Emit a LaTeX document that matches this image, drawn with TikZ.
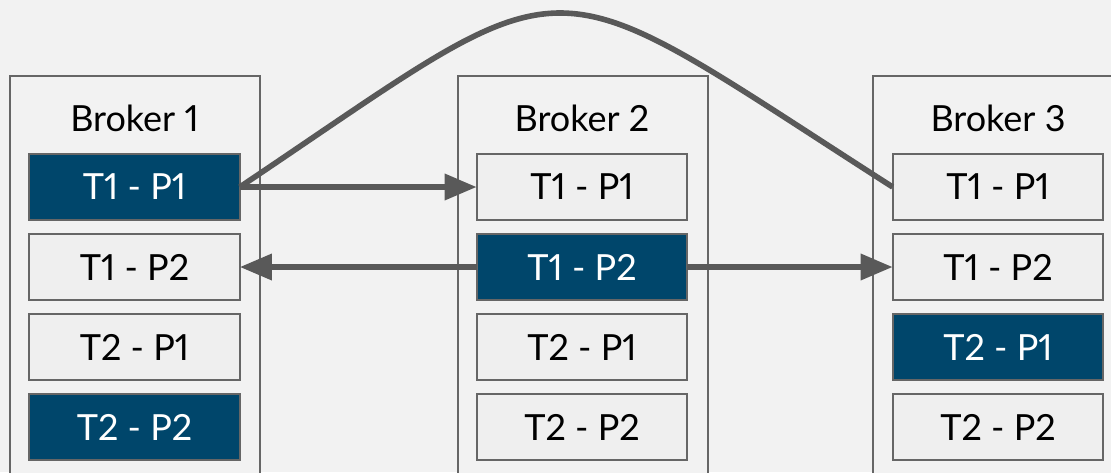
\documentclass[tikz,border=0pt]{standalone}
\usepackage{fontspec}
\setmainfont{Lato}[Numbers=Proportional]
\usetikzlibrary{arrows.meta}
\definecolor{bg}{HTML}{F2F2F2}
\definecolor{boxfill}{HTML}{EFEFEF}
\definecolor{edge}{HTML}{666666}
\definecolor{lead}{HTML}{00466B}
\definecolor{link}{HTML}{595959}
\begin{document}
\begin{tikzpicture}[x=0.75pt,y=-0.75pt,
  broker/.style={draw=edge,line width=1.5pt,fill=bg,minimum width=187.5pt,
    minimum height=330pt,anchor=north,inner sep=0pt,outer sep=0pt},
  part/.style={draw=edge,line width=1.5pt,fill=boxfill,minimum width=158pt,
    minimum height=49.5pt,inner sep=0pt,outer sep=0pt,
    font=\fontsize{27}{30}\selectfont},
  leader/.style={part,fill=lead,text=white},
  title/.style={font=\fontsize{27}{30}\selectfont},
  arrow/.style={draw=link,line width=4.2pt,-{Triangle[length=24pt,width=19pt]}},
  arc/.style={draw=link,line width=4.2pt}]
  % canvas
  \fill[bg] (0,0) rectangle (1111,472);
  \useasboundingbox (0,0) rectangle (1111,472);
  \begin{scope}
    \clip (0,0) rectangle (1111,472);
    % broker frames
    \node[broker] (b1) at (135,76) {};
    \node[broker] (b2) at (582.5,76) {};
    \node[broker] (b3) at (998,76) {};
  \end{scope}
  % broker titles
  \node[title] (t1) at (134.5,118) {Broker 1};
  \node[title] (t2) at (582,118) {Broker 2};
  \node[title] (t3) at (998,118) {Broker 3};
  % partitions of broker 1
  \node[leader] (b1p1) at (134.5,187) {T1 - P1};
  \node[part]   (b1p2) at (134.5,267) {T1 - P2};
  \node[part]   (b1p3) at (134.5,347) {T2 - P1};
  \node[leader] (b1p4) at (134.5,427) {T2 - P2};
  % partitions of broker 2
  \node[part]   (b2p1) at (582,187) {T1 - P1};
  \node[leader] (b2p2) at (582,267) {T1 - P2};
  \node[part]   (b2p3) at (582,347) {T2 - P1};
  \node[part]   (b2p4) at (582,427) {T2 - P2};
  % partitions of broker 3
  \node[part]   (b3p1) at (998,187) {T1 - P1};
  \node[part]   (b3p2) at (998,267) {T1 - P2};
  \node[leader] (b3p3) at (998,347) {T2 - P1};
  \node[part]   (b3p4) at (998,427) {T2 - P2};
  % replication links
  \draw[arrow] (b1p1.east) -- (b2p1.west);
  \draw[arrow] (b2p2.west) -- (b1p2.east);
  \draw[arrow] (b2p2.east) -- (b3p2.west);
  \draw[arc] (b1p1.east) .. controls (586,-45) and (530,-45) .. (b3p1.west);
\end{tikzpicture}
\end{document}
